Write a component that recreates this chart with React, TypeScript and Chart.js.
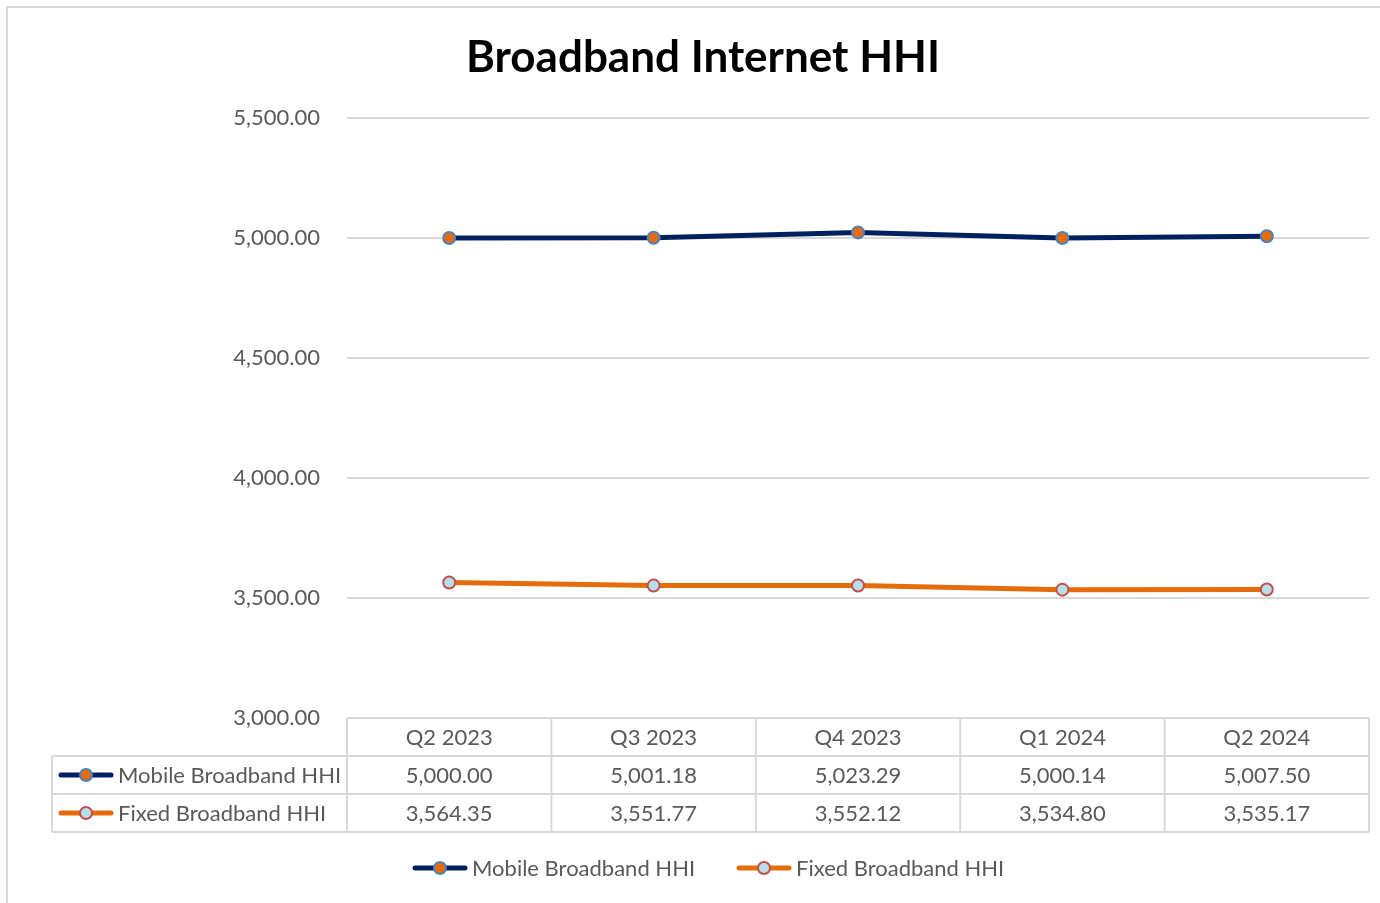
import React, { useEffect, useRef } from "react";
import { Chart, registerables } from "chart.js";

Chart.register(...registerables);

const TITLE = "Broadband Internet HHI";
const categories = ["Q2 2023", "Q3 2023", "Q4 2023", "Q1 2024", "Q2 2024"];
const seriesNames = ["Mobile Broadband HHI", "Fixed Broadband HHI"];
const mobileValues = [5000.0, 5001.18, 5023.29, 5000.14, 5007.5];
const fixedValues = [3564.35, 3551.77, 3552.12, 3534.8, 3535.17];
const yMin = 3000;
const yMax = 5500;
const yStep = 500;

const FONT = "Lato, 'Open Sans', sans-serif";
const TEXT = "#595959";
const GRID = "#d9d9d9";

const fmt = (v: number) =>
  v.toLocaleString("en-US", { minimumFractionDigits: 2, maximumFractionDigits: 2 });

const styles = [
  { line: "#002060", fill: "#E46C0A", border: "#4F81BD" },
  { line: "#E46C0A", fill: "#B7DEE8", border: "#C0504D" },
];

function drawSymbol(ctx: CanvasRenderingContext2D, cx: number, cy: number, s: any) {
  ctx.save();
  ctx.strokeStyle = s.line;
  ctx.lineWidth = 5;
  ctx.lineCap = "round";
  ctx.beginPath();
  ctx.moveTo(cx - 25, cy);
  ctx.lineTo(cx + 25, cy);
  ctx.stroke();
  ctx.beginPath();
  ctx.arc(cx, cy, 6, 0, Math.PI * 2);
  ctx.fillStyle = s.fill;
  ctx.fill();
  ctx.lineWidth = 2;
  ctx.strokeStyle = s.border;
  ctx.stroke();
  ctx.restore();
}

const tablePlugin = {
  id: "excelTable",
  afterDraw(chart: any) {
    const ctx: CanvasRenderingContext2D = chart.ctx;
    const area = chart.chartArea;
    const xs = chart.scales.x;
    ctx.save();
    // outer border
    ctx.strokeStyle = GRID;
    ctx.lineWidth = 2;
    ctx.strokeRect(7, 7, 1420, 950);

    // title
    ctx.fillStyle = "#000";
    ctx.font = `bold 44px ${FONT}`;
    ctx.textAlign = "center";
    ctx.textBaseline = "middle";
    ctx.fillText(TITLE, 703, 58);

    // data table
    const half = (xs.getPixelForValue(1) - xs.getPixelForValue(0)) / 2;
    const bounds = categories.map((_, i) => xs.getPixelForValue(i) - half);
    bounds.push(area.right);
    const rowH = 38;
    const top = area.bottom;
    const labelLeft = 52;
    ctx.strokeStyle = GRID;
    ctx.lineWidth = 2;
    ctx.beginPath();
    ctx.moveTo(area.left, top);
    ctx.lineTo(area.right, top);
    for (let r = 1; r <= 3; r++) {
      ctx.moveTo(labelLeft, top + r * rowH);
      ctx.lineTo(area.right, top + r * rowH);
    }
    bounds.forEach((b) => {
      ctx.moveTo(b, top);
      ctx.lineTo(b, top + 3 * rowH);
    });
    ctx.moveTo(labelLeft, top + rowH);
    ctx.lineTo(labelLeft, top + 3 * rowH);
    ctx.stroke();

    ctx.font = `22px ${FONT}`;
    ctx.fillStyle = TEXT;
    ctx.textAlign = "center";
    ctx.textBaseline = "middle";
    categories.forEach((c, i) => {
      ctx.fillText(c, xs.getPixelForValue(i), top + rowH / 2 + 1);
    });
    chart.data.datasets.forEach((ds: any, r: number) => {
      const cy = top + rowH * (r + 1) + rowH / 2 + 1;
      ds.data.forEach((v: number, i: number) => {
        ctx.fillStyle = TEXT;
        ctx.textAlign = "center";
        ctx.fillText(fmt(v), xs.getPixelForValue(i), cy);
      });
      drawSymbol(ctx, 86, cy - 1, styles[r]);
      ctx.fillStyle = TEXT;
      ctx.textAlign = "left";
      ctx.fillText(ds.label, 118, cy);
    });

    // bottom legend
    const ly = 868;
    const legendX = [440, 764];
    chart.data.datasets.forEach((ds: any, r: number) => {
      drawSymbol(ctx, legendX[r], ly, styles[r]);
      ctx.fillStyle = TEXT;
      ctx.textAlign = "left";
      ctx.fillText(ds.label, legendX[r] + 32, ly + 1);
    });
    ctx.restore();
  },
};

export default function App() {
  const ref = useRef<HTMLCanvasElement>(null);
  useEffect(() => {
    if (!ref.current) return;
    const chart = new Chart(ref.current, {
      type: "line",
      data: {
        labels: categories,
        datasets: [
          {
            label: seriesNames[0],
            data: mobileValues,
            borderColor: styles[0].line,
            borderWidth: 5,
            pointBackgroundColor: styles[0].fill,
            pointBorderColor: styles[0].border,
            pointBorderWidth: 2,
            pointRadius: 6,
            tension: 0,
          },
          {
            label: seriesNames[1],
            data: fixedValues,
            borderColor: styles[1].line,
            borderWidth: 5,
            pointBackgroundColor: styles[1].fill,
            pointBorderColor: styles[1].border,
            pointBorderWidth: 2,
            pointRadius: 6,
            tension: 0,
          },
        ],
      },
      options: {
        responsive: false,
        animation: false,
        layout: { padding: { left: 37, right: 11, top: 118, bottom: 185 } },
        plugins: {
          legend: { display: false },
          title: { display: false },
          tooltip: { enabled: false },
        },
        scales: {
          x: { display: false, offset: true },
          y: {
            min: yMin,
            max: yMax,
            afterFit: (s: any) => {
              s.width = 310;
            },
            border: { display: false },
            grid: { color: GRID, lineWidth: 2, drawTicks: false },
            ticks: {
              stepSize: yStep,
              padding: 27,
              color: TEXT,
              font: { family: FONT, size: 22 },
              callback: (v: any) => fmt(Number(v)),
            },
          },
        },
      },
      plugins: [tablePlugin],
    });
    return () => chart.destroy();
  }, []);
  return (
    <div style={{ position: "absolute", left: 0, top: 0, width: 1380, height: 903, background: "#fff" }}>
      <canvas ref={ref} width={1380} height={903} />
    </div>
  );
}
